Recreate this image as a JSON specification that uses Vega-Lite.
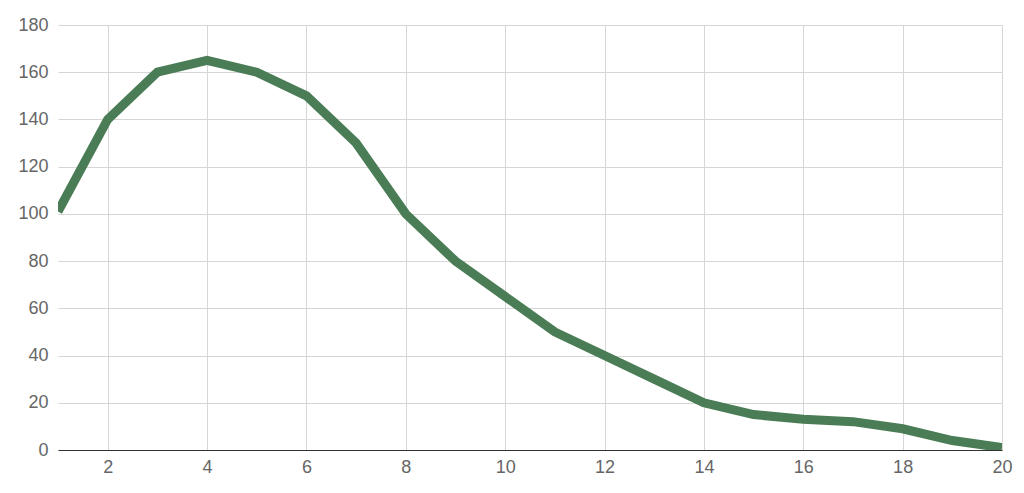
{
  "$schema": "https://vega.github.io/schema/vega-lite/v6.json",
  "width": 944,
  "height": 425,
  "autosize": {"type": "none"},
  "padding": {"left": 58, "top": 25, "right": 22, "bottom": 43},
  "background": "white",
  "config": {
    "view": {"stroke": null},
    "font": "Liberation Sans"
  },
  "data": {
    "values": [
      {"x": 1, "y": 101},
      {"x": 2, "y": 140},
      {"x": 3, "y": 160},
      {"x": 4, "y": 165},
      {"x": 5, "y": 160},
      {"x": 6, "y": 150},
      {"x": 7, "y": 130},
      {"x": 8, "y": 100},
      {"x": 9, "y": 80},
      {"x": 10, "y": 65},
      {"x": 11, "y": 50},
      {"x": 12, "y": 40},
      {"x": 13, "y": 30},
      {"x": 14, "y": 20},
      {"x": 15, "y": 15},
      {"x": 16, "y": 13},
      {"x": 17, "y": 12},
      {"x": 18, "y": 9},
      {"x": 19, "y": 4},
      {"x": 20, "y": 1}
    ]
  },
  "mark": {"type": "line", "color": "#4a7c55", "strokeWidth": 9, "clip": true, "strokeJoin": "miter"},
  "encoding": {
    "x": {
      "field": "x",
      "type": "quantitative",
      "scale": {"domain": [1, 20], "nice": false, "zero": false},
      "axis": {
        "title": null,
        "values": [2, 4, 6, 8, 10, 12, 14, 16, 18, 20],
        "grid": true,
        "gridColor": "#d6d6d6",
        "gridWidth": 1,
        "ticks": false,
        "domain": true,
        "domainColor": "#333333",
        "domainWidth": 1.2,
        "labelFontSize": 18,
        "labelColor": "#666666",
        "labelPadding": 8,
        "labelFlush": false
      }
    },
    "y": {
      "field": "y",
      "type": "quantitative",
      "scale": {"domain": [0, 180], "nice": false},
      "axis": {
        "title": null,
        "values": [0, 20, 40, 60, 80, 100, 120, 140, 160, 180],
        "grid": true,
        "gridColor": "#d6d6d6",
        "gridWidth": 1,
        "ticks": false,
        "domain": false,
        "labelFontSize": 18,
        "labelColor": "#666666",
        "labelPadding": 10
      }
    }
  }
}
